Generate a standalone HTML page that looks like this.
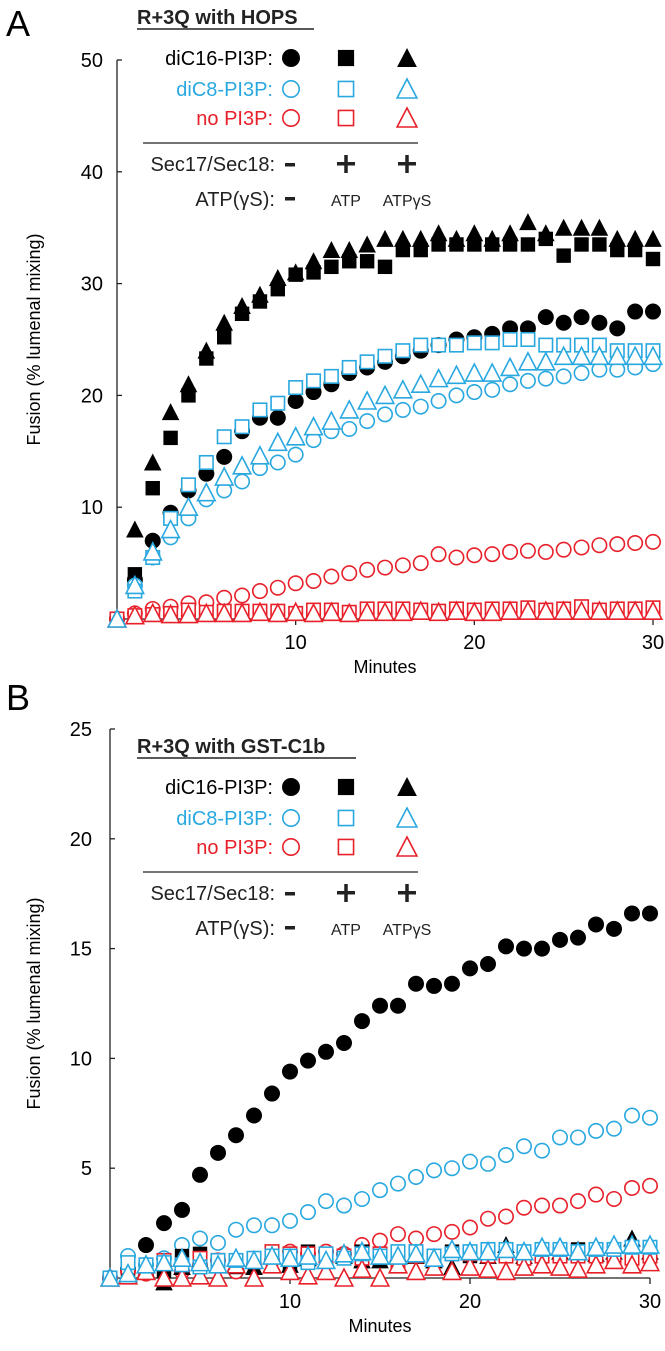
<!DOCTYPE html>
<html><head><meta charset="utf-8"><style>
html,body{margin:0;padding:0;background:#fff;}
svg{display:block;font-family:"Liberation Sans",Arial,sans-serif;}
</style></head><body>
<svg id="fig" width="665" height="1351" viewBox="0 0 665 1351" xmlns="http://www.w3.org/2000/svg"></svg>
<script>
// ---- shared data ----
const times = [0,1,2,3,4,5,6,7,8,9,10,11,12,13,14,15,16,17,18,19,20,21,22,23,24,25,26,27,28,29,30];
const xTicks = [10,20,30];
const yTicksA = [10,20,30,40,50];
const yTicksB = [5,10,15,20,25];
// Panel A (HOPS)
const a_c16_circle = [0,3.5,7,9.5,11.5,13,14.5,16.8,18,18,19.5,20.3,21,22,22.5,23,23.5,24,24.5,25,25.2,25.5,26,26,27,26.5,27,26.5,26,27.5,27.5];
const a_c16_square = [0,4,11.7,16.2,20,23.3,25.2,27.3,28.4,29.5,30.8,31,31.5,32,32,31.5,33,33,33.5,33.5,33.5,33.5,33.5,33.5,34,32.5,33.5,33.5,33,33,32.2];
const a_c16_tri = [0,8,14,18.5,21,24,26.5,28,29,30.5,31,32,33,33,33.5,34,34,34,34.5,34,34.5,34,34.5,35.5,34.5,35,35,35,34,34,34];
const a_c8_circle = [0,3,5.5,7.3,9,10.7,11.5,12.3,13.5,14,14.7,16,16.8,17,17.7,18.3,18.7,19,19.5,20,20.3,20.5,21,21.3,21.5,21.7,22,22.3,22.3,22.5,22.8];
const a_c8_square = [0,2.5,5.5,9,12,14,16.3,17.2,18.7,19.3,20.7,21.3,21.7,22.5,23,23.5,24,24.5,24.5,24.5,24.7,24.7,25,25,24.5,24.5,24.5,24.5,24,24,24];
const a_c8_tri = [0,3,6,8,10,11.3,12.7,13.7,14.6,15.8,16.3,17.2,17.7,18.7,19.5,20,20.5,21,21.5,21.8,22,22,22.5,23,23,23.5,23.5,23.5,23.5,23.5,23.5];
const a_no_circle = [0,0.5,0.9,1.1,1.4,1.5,1.9,2.1,2.5,2.8,3.2,3.4,3.8,4.1,4.4,4.6,4.8,5,5.8,5.5,5.7,5.8,6,6.1,6,6.2,6.4,6.6,6.7,6.8,6.9];
const a_no_square = [0,0.3,0.4,0.5,0.8,0.6,0.7,0.7,0.7,0.7,0.5,0.8,0.8,0.6,0.9,0.9,0.9,0.8,0.7,0.9,0.8,0.9,0.9,1,0.8,0.9,1.1,0.8,0.9,0.9,1.0];
const a_no_tri = [0,0.3,0.5,0.4,0.4,0.5,0.5,0.5,0.6,0.5,0.6,0.5,0.6,0.5,0.6,0.6,0.6,0.7,0.6,0.7,0.6,0.6,0.7,0.7,0.7,0.7,0.7,0.7,0.7,0.7,0.7];
// Panel B (GST-C1b)
const b_c16_circle = [0,0.4,1.5,2.5,3.1,4.7,5.7,6.5,7.4,8.4,9.4,9.9,10.3,10.7,11.7,12.4,12.4,13.4,13.3,13.4,14.1,14.3,15.1,15.0,15.0,15.4,15.5,16.1,15.9,16.6,16.6];
const b_c16_square = [0,0.3,0.3,0.3,1.0,1.1,0.8,0.5,0.8,1.0,0.6,1.2,1.0,1.0,1.2,0.9,1.0,1.2,0.9,1.2,1.0,1.3,1.2,1.0,1.2,1.3,1.3,1.0,1.2,1.1,1.2];
const b_c16_tri = [0,0.2,0.4,-0.2,0.5,0.8,0.6,0.7,0.5,1.0,0.6,0.9,0.8,1.0,0.8,0.8,1.1,1.0,0.8,0.5,1.2,1.0,1.5,1.0,0.6,1.2,1.3,1.1,1.2,1.8,1.2];
const b_c8_circle = [0,1.0,0.6,0.9,1.5,1.8,1.6,2.2,2.4,2.4,2.6,3.0,3.5,3.3,3.6,4.0,4.3,4.6,4.9,5.0,5.3,5.2,5.6,6.0,5.8,6.4,6.4,6.7,6.8,7.4,7.3];
const b_c8_square = [0,0.7,0.6,0.7,0.6,0.5,0.8,0.8,0.9,1.0,1.0,0.7,1.1,0.9,1.1,1.0,1.2,1.2,1.0,1.1,1.2,1.3,1.3,1.2,1.3,1.3,1.2,1.3,1.3,1.4,1.4];
const b_c8_tri = [0,0.2,0.6,0.7,0.9,0.7,0.6,0.9,0.8,1.0,0.9,1.0,0.8,1.1,1.2,1.0,1.0,1.1,0.9,1.3,1.2,1.2,1.3,1.2,1.4,1.4,1.2,1.4,1.5,1.5,1.5];
const b_no_circle = [0,0.3,0.2,0.5,0.3,0.6,0.8,0.3,0.6,0.8,1.2,1.1,1.2,1.1,1.5,1.7,2.0,1.8,2.0,2.1,2.3,2.7,2.8,3.2,3.3,3.3,3.5,3.8,3.6,4.1,4.2];
const b_no_square = [0,0.5,0.5,0.8,0.6,0.9,0.8,0.6,0.8,1.2,1.1,1.1,1.0,1.0,0.9,1.1,0.7,1.0,1.0,1.1,1.1,1.0,1.0,0.9,1.0,1.0,1.0,1.0,0.9,0.9,1.0];
const b_no_tri = [0,0.1,0.3,0.0,0.0,0.1,0.0,0.6,0.0,0.6,0.3,0.1,0.3,0.0,0.4,0.0,0.6,0.3,0.5,0.3,0.5,0.4,0.3,0.5,0.6,0.5,0.4,0.6,0.8,0.6,0.7];

const NS = "http://www.w3.org/2000/svg";
const svg = document.getElementById('fig');
const BLACK = "#000", CYAN = "#29a8e0", RED = "#e8202a";

function mk(tag, attrs, parent, text) {
  const e = document.createElementNS(NS, tag);
  for (const k in attrs) e.setAttribute(k, attrs[k]);
  if (text !== undefined) e.textContent = text;
  (parent || svg).appendChild(e);
  return e;
}

function marker(g, shape, color, filled, cx, cy, s) {
  const fill = filled ? color : "#fff";
  const sw = filled ? 0 : 1.6;
  let e;
  if (shape === 'circle') {
    e = mk('circle', {cx: cx, cy: cy, r: filled ? s * 0.5 : s * 0.5 - 0.8, fill: fill, stroke: color, 'stroke-width': sw}, g);
  } else if (shape === 'square') {
    const h = filled ? s * 0.45 : s * 0.42;
    e = mk('rect', {x: cx - h, y: cy - h, width: 2 * h, height: 2 * h, fill: fill, stroke: color, 'stroke-width': sw}, g);
  } else {
    const w = s * 0.55, hh = s * 0.5;
    e = mk('polygon', {points: `${cx},${cy - hh - 1} ${cx - w},${cy + hh} ${cx + w},${cy + hh}`, fill: fill, stroke: color, 'stroke-width': sw, 'stroke-linejoin': 'miter'}, g);
  }
  return e;
}

function panel(cfg) {
  const g = mk('g', {});
  
  
  const xS = t => cfg.x0 + (t - 0) * (cfg.x1 - cfg.x0) / 30;
  const yS = v => cfg.y0 - v * (cfg.y0 - cfg.yTop) / cfg.yMax;

  // panel letter
  const L = mk('text', {x: 6, y: cfg.letterY, 'font-size': 36, fill: '#000'}, g, cfg.letter);
  
  

  // axes
  const ax = mk('path', {d: `M${cfg.x0},${cfg.yTop} V${cfg.y0} H${cfg.x1}`, fill: 'none', stroke: '#222', 'stroke-width': 1.3}, g);
  
  
  for (const v of cfg.yTicks) {
    const y = yS(v);
    mk('line', {x1: cfg.x0, x2: cfg.x0 + 5, y1: y, y2: y, stroke: '#222', 'stroke-width': 1.3}, g);
    const t = mk('text', {x: cfg.ylabX, y: y + 7, 'text-anchor': 'end', 'font-size': 20, fill: '#000'}, g, String(v));
    
    
  }
  for (const v of xTicks) {
    const x = xS(v);
    mk('line', {x1: x, x2: x, y1: cfg.y0, y2: cfg.y0 + 6, stroke: '#222', 'stroke-width': 1.3}, g);
    const t = mk('text', {x: x, y: cfg.y0 + 30, 'text-anchor': 'middle', 'font-size': 20, fill: '#000'}, g, String(v));
    
    
  }
  const xt = mk('text', {x: (cfg.x0 + cfg.x1) / 2, y: cfg.y0 + 54, 'text-anchor': 'middle', 'font-size': 18, fill: '#000'}, g, 'Minutes');
  
  
  const yc = (cfg.y0 + cfg.yTop) / 2;
  const yt = mk('text', {x: 40, y: yc, 'text-anchor': 'middle', 'font-size': 18, fill: '#000', transform: `rotate(-90 40 ${yc})`}, g, 'Fusion (% lumenal mixing)');
  
  

  // series
  for (const s of cfg.series) {
    const sg = mk('g', {}, g);
    
    
    s.values.forEach((v, i) => {
      const m = marker(sg, s.shape, s.color, s.filled, xS(times[i]), yS(v), 16);
      
      
    });
  }

  // legend
  const lg = mk('g', {}, g);
  
  
  const o = cfg.legY;
  const title = mk('text', {x: 137, y: o + 24, 'font-size': 20, 'font-weight': 'bold', fill: '#222'}, lg, cfg.title);
  
  
  mk('line', {x1: 137, x2: cfg.titleEnd, y1: o + 29, y2: o + 29, stroke: '#222', 'stroke-width': 1.5}, lg);
  const rows = [['diC16-PI3P:', BLACK, true, 58], ['diC8-PI3P:', CYAN, false, 89], ['no PI3P:', RED, false, 118]];
  const cols = [['circle', 291], ['square', 346], ['tri', 407]];
  for (const r of rows) {
    const t = mk('text', {x: 273, y: o + r[3] + 7, 'text-anchor': 'end', 'font-size': 20, fill: r[1]}, lg, r[0]);
    
    
    for (const c of cols) marker(lg, c[0], r[1], r[2], c[1], o + r[3], 18);
  }
  mk('line', {x1: 143, x2: 418, y1: o + 143, y2: o + 143, stroke: '#222', 'stroke-width': 1.3}, lg);
  const s1 = mk('text', {x: 275, y: o + 171, 'text-anchor': 'end', 'font-size': 20, fill: '#222'}, lg, 'Sec17/Sec18:');
  
  
  mk('rect', {x: 285, y: o + 163, width: 10, height: 3.5, fill: '#222'}, lg);
  for (const px of [346, 407]) {
    mk('rect', {x: px - 9, y: o + 162, width: 18, height: 3.5, fill: '#222'}, lg);
    mk('rect', {x: px - 1.75, y: o + 155, width: 3.5, height: 18, fill: '#222'}, lg);
  }
  const s2 = mk('text', {x: 275, y: o + 206, 'text-anchor': 'end', 'font-size': 20, fill: '#222'}, lg, 'ATP(γS):');
  
  
  mk('rect', {x: 285, y: o + 197, width: 10, height: 3.5, fill: '#222'}, lg);
  mk('text', {x: 346, y: o + 206, 'text-anchor': 'middle', 'font-size': 16, fill: '#222'}, lg, 'ATP');
  mk('text', {x: 407, y: o + 206, 'text-anchor': 'middle', 'font-size': 16, fill: '#222'}, lg, 'ATPγS');
}

panel({name: 'panel-a-chart', letter: 'A', letterY: 36, x0: 117, x1: 653, y0: 619, yTop: 60, yMax: 50,
  yTicks: yTicksA, ylabX: 103, legY: 0, title: 'R+3Q with HOPS', titleEnd: 314,
  series: [
    {name: 'series-a-diC16-noSec', shape: 'circle', color: BLACK, filled: true, values: a_c16_circle},
    {name: 'series-a-diC16-ATP', shape: 'square', color: BLACK, filled: true, values: a_c16_square},
    {name: 'series-a-diC16-ATPyS', shape: 'tri', color: BLACK, filled: true, values: a_c16_tri},
    {name: 'series-a-diC8-noSec', shape: 'circle', color: CYAN, filled: false, values: a_c8_circle},
    {name: 'series-a-diC8-ATP', shape: 'square', color: CYAN, filled: false, values: a_c8_square},
    {name: 'series-a-noPI3P-noSec', shape: 'circle', color: RED, filled: false, values: a_no_circle},
    {name: 'series-a-noPI3P-ATP', shape: 'square', color: RED, filled: false, values: a_no_square},
    {name: 'series-a-noPI3P-ATPyS', shape: 'tri', color: RED, filled: false, values: a_no_tri},
    {name: 'series-a-diC8-ATPyS', shape: 'tri', color: CYAN, filled: false, values: a_c8_tri}
  ]});

panel({name: 'panel-b-chart', letter: 'B', letterY: 710, x0: 110, x1: 650, y0: 1278, yTop: 729, yMax: 25,
  yTicks: yTicksB, ylabX: 92, legY: 729, title: 'R+3Q with GST-C1b', titleEnd: 356,
  series: [
    {name: 'series-b-diC16-noSec', shape: 'circle', color: BLACK, filled: true, values: b_c16_circle},
    {name: 'series-b-diC8-noSec', shape: 'circle', color: CYAN, filled: false, values: b_c8_circle},
    {name: 'series-b-noPI3P-noSec', shape: 'circle', color: RED, filled: false, values: b_no_circle},
    {name: 'series-b-diC16-ATP', shape: 'square', color: BLACK, filled: true, values: b_c16_square},
    {name: 'series-b-diC16-ATPyS', shape: 'tri', color: BLACK, filled: true, values: b_c16_tri},
    {name: 'series-b-noPI3P-ATP', shape: 'square', color: RED, filled: false, values: b_no_square},
    {name: 'series-b-noPI3P-ATPyS', shape: 'tri', color: RED, filled: false, values: b_no_tri},
    {name: 'series-b-diC8-ATP', shape: 'square', color: CYAN, filled: false, values: b_c8_square},
    {name: 'series-b-diC8-ATPyS', shape: 'tri', color: CYAN, filled: false, values: b_c8_tri}
  ]});
</script>
</body></html>
